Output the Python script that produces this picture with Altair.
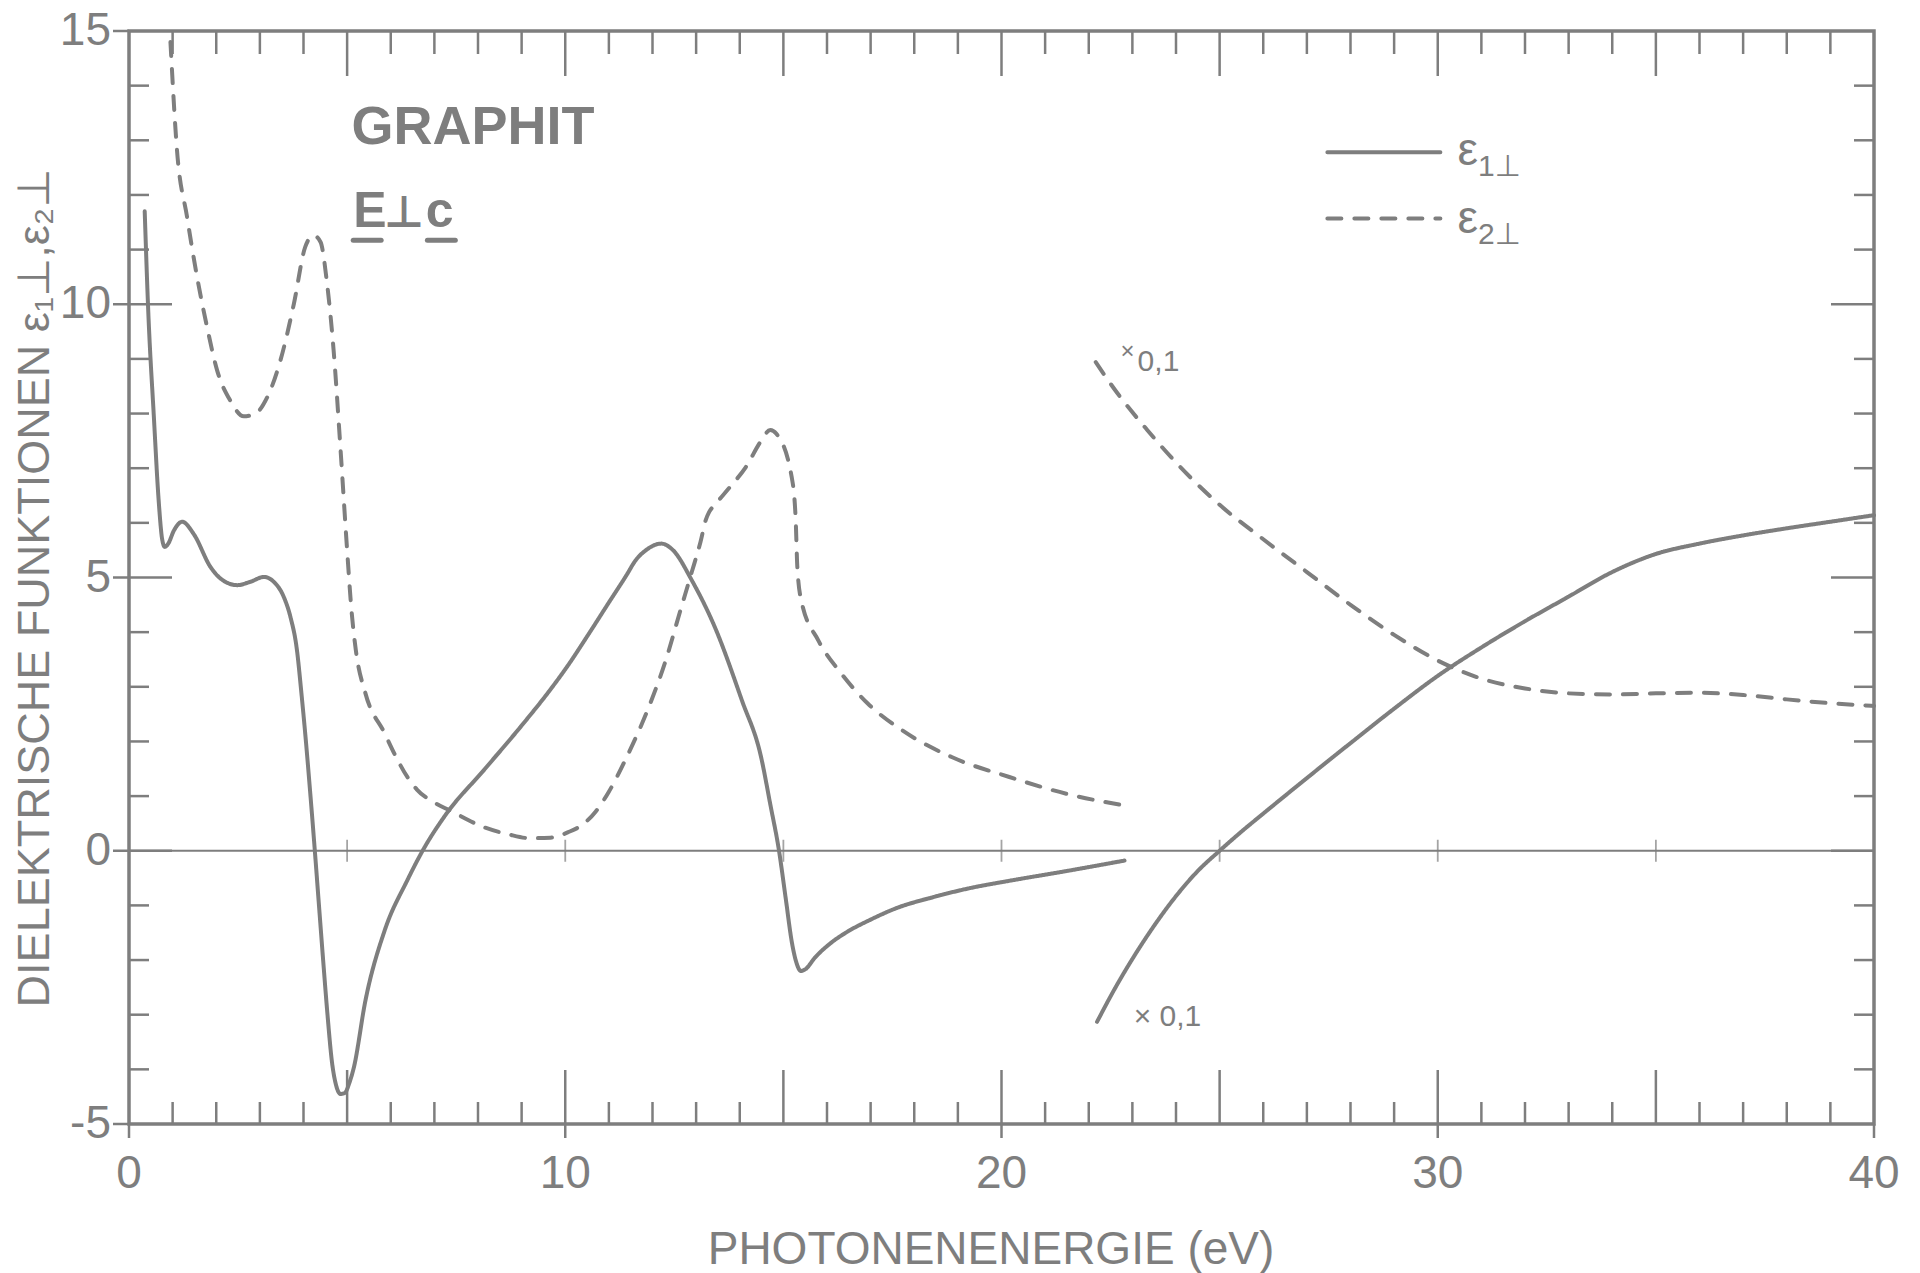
import altair as alt
import pandas as pd

# ---------------- data ----------------
# epsilon_1 (solid), first branch 0.35 .. 23 eV
e1a_x = [0.36, 0.44, 0.57, 0.68, 0.76, 0.82, 0.90, 1.03, 1.22, 1.48, 1.87, 2.10, 2.48, 2.78, 3.09,
         3.32, 3.55, 3.70, 3.85, 3.95, 4.05, 4.15, 4.25, 4.35, 4.45, 4.55, 4.65, 4.75, 4.85,
         4.95, 5.05, 5.15, 5.42, 5.86, 6.38, 6.73, 7.26, 8.14, 9.01, 9.66, 10.07, 10.54, 11.03,
         11.41, 11.60, 11.85, 12.20, 12.47, 12.90, 13.43, 14.05, 14.49, 14.70, 14.90, 15.05,
         15.20, 15.30, 15.40, 15.50, 15.73, 16.10, 16.43, 17.00, 17.56, 18.43, 19.30, 20.18,
         21.50, 22.82]
e1a_y = [11.70, 9.90, 7.94, 6.41, 5.70, 5.56, 5.62, 5.86, 6.02, 5.80, 5.19, 4.98, 4.86, 4.92, 5.01,
         4.92, 4.64, 4.28, 3.67, 2.90, 2.05, 1.10, 0.10, -0.95, -2.00, -3.00, -3.85, -4.30, -4.45,
         -4.43, -4.25, -3.98, -2.74, -1.46, -0.54, 0.00, 0.66, 1.48, 2.30, 2.95, 3.40, 3.97, 4.58,
         5.05, 5.30, 5.50, 5.62, 5.50, 4.95, 4.09, 2.75, 1.71, 0.85, 0.00, -0.85,
         -1.70, -2.05, -2.20, -2.17, -1.95, -1.68, -1.50, -1.26, -1.06, -0.85, -0.68, -0.55,
         -0.37, -0.18]

# epsilon_1 (solid), second branch (x 0.1) 22 .. 40 eV
e1b_x = [22.19, 22.60, 23.00, 23.50, 24.00, 24.50, 25.00, 25.50, 26.00, 27.00, 28.00, 29.00,
         30.00, 31.00, 32.00, 33.00, 34.00, 35.00, 36.00, 37.00, 38.00, 39.00, 40.00]
e1b_y = [-3.13, -2.52, -1.98, -1.37, -0.83, -0.37, 0.00, 0.35, 0.68, 1.33, 1.97, 2.60,
         3.20, 3.72, 4.20, 4.65, 5.10, 5.43, 5.62, 5.77, 5.90, 6.02, 6.14]

# epsilon_2 (dashed), first branch 0.95 .. 23 eV
e2a_x = [0.95, 1.10, 1.33, 1.56, 1.79, 2.02, 2.32, 2.63, 2.90, 3.17, 3.47, 3.78, 4.04, 4.23,
         4.39, 4.54, 4.69, 4.85, 5.00, 5.10, 5.20, 5.42, 5.86, 6.10, 6.38, 6.60, 7.00, 7.35,
         8.14, 8.70, 9.19, 9.66, 10.07, 10.40, 10.70, 11.00, 11.40, 11.94, 12.29, 12.64, 12.90,
         13.10, 13.22, 13.30, 13.43, 13.78, 14.14, 14.49, 14.70, 14.84, 15.19, 15.28, 15.32,
         15.41, 15.80, 16.33, 16.94, 17.73, 18.87, 20.18, 21.50, 22.95]
e2a_y = [14.80, 12.82, 11.60, 10.50, 9.58, 8.79, 8.24, 7.95, 8.00, 8.30, 8.97, 10.01, 11.05, 11.26,
         11.14, 10.38, 9.16, 7.33, 5.50, 4.40, 3.67, 2.88, 2.15, 1.75, 1.35, 1.12, 0.88, 0.74,
         0.43, 0.30, 0.23, 0.24, 0.34, 0.48, 0.72, 1.08, 1.70, 2.68, 3.45, 4.40, 5.10,
         5.65, 6.05, 6.20, 6.33, 6.66, 7.02, 7.50, 7.70, 7.63, 6.84, 6.10, 5.19,
         4.58, 3.85, 3.24, 2.69, 2.20, 1.71, 1.35, 1.04, 0.81]

# epsilon_2 (dashed), second branch (x 0.1) 22 .. 40 eV
e2b_x = [22.16, 22.65, 23.34, 24.10, 25.00, 26.00, 27.00, 28.00, 29.00, 30.00, 31.00, 32.00,
         33.00, 34.00, 35.00, 36.00, 37.00, 38.00, 39.00, 40.00]
e2b_y = [8.94, 8.38, 7.70, 7.02, 6.33, 5.70, 5.10, 4.50, 3.95, 3.48, 3.15, 2.97,
         2.88, 2.86, 2.88, 2.89, 2.85, 2.77, 2.70, 2.65]

x_ticks_labeled = [0, 10, 20, 30, 40]
x_tick_text = ["0", "10", "20", "30", "40"]
y_ticks_labeled = [-5, 0, 5, 10, 15]
y_tick_text = ["-5", "0", "5", "10", "15"]
x_minor = [v for v in range(1, 40) if v % 5 != 0]
x_major = [5, 10, 15, 20, 25, 30, 35]
y_minor = [v for v in range(-4, 15) if v % 5 != 0]
y_major = [0, 5, 10]
zero_ticks = [5, 10, 15, 20, 25, 30, 35]

x_title = "PHOTONENENERGIE (eV)"
y_title = "DIELEKTRISCHE FUNKTIONEN ε₁⊥,ε₂⊥"
series_names = ["e1", "e2"]

# ---------------- styling ----------------
GRAY = "#7e7e7e"
W, H = 1745, 1093
FONT = "Liberation Sans, DejaVu Sans, sans-serif"

xs = alt.Scale(domain=[0, 40], nice=False, zero=False)
ys = alt.Scale(domain=[-5, 15], nice=False, zero=False)

frames = []
for name, seg, xx, yy in [("e1", "e1a", e1a_x, e1a_y), ("e1", "e1b", e1b_x, e1b_y),
                          ("e2", "e2a", e2a_x, e2a_y), ("e2", "e2b", e2b_x, e2b_y)]:
    frames.append(pd.DataFrame({"E": xx, "eps": yy, "series": name, "seg": seg}))
df = pd.concat(frames, ignore_index=True)

lines = alt.Chart(df).mark_line(interpolate="monotone", strokeWidth=4, color=GRAY,
                                strokeCap="round").encode(
    x=alt.X("E:Q", scale=xs, axis=None),
    y=alt.Y("eps:Q", scale=ys, axis=None),
    strokeDash=alt.StrokeDash("series:N", scale=alt.Scale(domain=series_names,
                                                           range=[[1, 0], [14, 13]]), legend=None),
    detail="seg:N",
)

# zero line and its small ticks
zero_line = alt.Chart(pd.DataFrame({"z": [0]})).mark_rule(color=GRAY, strokeWidth=1.8).encode(
    y=alt.Y("z:Q", scale=ys, axis=None), x=alt.value(0), x2=alt.value(W))
zero_tk = alt.Chart(pd.DataFrame({"v": zero_ticks, "z": [0] * len(zero_ticks)})).mark_tick(
    orient="vertical", size=22, thickness=1.8, color=GRAY).encode(
    x=alt.X("v:Q", scale=xs, axis=None), y=alt.Y("z:Q", scale=ys, axis=None))

# ticks on all four sides (inward), plus outward ticks at the labelled values
def xticks(vals, y0, y1):
    return alt.Chart(pd.DataFrame({"v": vals})).mark_rule(color=GRAY, strokeWidth=2.5).encode(
        x=alt.X("v:Q", scale=xs, axis=None), y=alt.value(y0), y2=alt.value(y1))

def yticks(vals, x0, x1):
    return alt.Chart(pd.DataFrame({"v": vals})).mark_rule(color=GRAY, strokeWidth=2.5).encode(
        y=alt.Y("v:Q", scale=ys, axis=None), x=alt.value(x0), x2=alt.value(x1))

tick_layers = [
    xticks(x_minor, H, H - 22), xticks(x_major, H, H - 54),
    xticks(x_minor, 0, 23), xticks(x_major, 0, 45),
    yticks(y_minor, 0, 20), yticks(y_major, 0, 43),
    yticks(y_minor, W, W - 20), yticks(y_major, W, W - 43),
    xticks(x_ticks_labeled, H, H + 14),
    yticks(y_ticks_labeled, 0, -16),
]

# tick labels and axis titles
x_lab = alt.Chart(pd.DataFrame({"v": x_ticks_labeled, "t": x_tick_text})).mark_text(
    align="center", baseline="top", fontSize=46, font=FONT, color=GRAY).encode(
    x=alt.X("v:Q", scale=xs, axis=None), y=alt.value(H + 28), text="t:N")
y_lab = alt.Chart(pd.DataFrame({"v": y_ticks_labeled, "t": y_tick_text})).mark_text(
    align="right", baseline="middle", fontSize=46, font=FONT, color=GRAY).encode(
    y=alt.Y("v:Q", scale=ys, axis=None), x=alt.value(-18), text="t:N")
x_tit = alt.Chart(pd.DataFrame({"t": [x_title]})).mark_text(
    align="center", baseline="alphabetic", fontSize=46, font=FONT, color=GRAY).encode(
    x=alt.value(862), y=alt.value(H + 140), text="t:N")
y_tit = alt.Chart(pd.DataFrame({"t": [y_title]})).mark_text(
    align="center", baseline="middle", fontSize=45, font=FONT, color=GRAY, angle=270).encode(
    x=alt.value(-94), y=alt.value(557), text="t:N")

# annotations (placed in data coordinates)
def label(text, x, y, size, align="left", font=FONT, weight="normal"):
    return alt.Chart(pd.DataFrame({"t": [text], "x": [x], "y": [y]})).mark_text(
        align=align, baseline="alphabetic", fontSize=size, font=font, color=GRAY,
        fontWeight=weight).encode(
        x=alt.X("x:Q", scale=xs, axis=None), y=alt.Y("y:Q", scale=ys, axis=None), text="t:N")

ann = [
    label("GRAPHIT", 5.10, 12.94, 54, weight="bold"),
    label("E", 5.14, 11.41, 50, weight="bold"),
    label("⊥", 6.30, 11.41, 44, align="center", font="DejaVu Sans, sans-serif", weight="bold"),
    label("c", 7.12, 11.41, 50, align="center", weight="bold"),
    label("×", 22.73, 9.0, 24),
    label("0,1", 23.12, 8.77, 30),
    label("× 0,1", 23.03, -3.21, 30),
    label("ε", 30.45, 12.54, 46),
    label("1⊥", 30.92, 12.34, 30),
    label("ε", 30.45, 11.31, 46),
    label("2⊥", 30.92, 11.11, 30),
]

underline = alt.Chart(pd.DataFrame({"a": [5.14, 6.84], "b": [5.78, 7.48], "y": [11.17, 11.17]})).mark_rule(
    color=GRAY, strokeWidth=5, strokeCap="round").encode(
    x=alt.X("a:Q", scale=xs, axis=None), x2="b:Q", y=alt.Y("y:Q", scale=ys, axis=None))

leg = alt.Chart(pd.DataFrame({"a": [27.47, 27.47], "b": [30.06, 30.06], "y": [12.78, 11.57],
                              "series": series_names})).mark_rule(
    color=GRAY, strokeWidth=4, strokeCap="round").encode(
    x=alt.X("a:Q", scale=xs, axis=None), x2="b:Q", y=alt.Y("y:Q", scale=ys, axis=None),
    strokeDash=alt.StrokeDash("series:N", scale=alt.Scale(domain=series_names,
                                                           range=[[1, 0], [14, 13]]), legend=None))

chart = alt.layer(lines, zero_line, zero_tk, *tick_layers, x_lab, y_lab, x_tit, y_tit,
                  underline, leg, *ann).properties(
    width=W, height=H,
    padding={"left": 129, "top": 31, "right": 46, "bottom": 149},
    autosize=alt.AutoSizeParams(type="none"),
    background="white",
).configure_view(stroke=GRAY, strokeWidth=3.5)

chart.save("out.html", embed_options={"renderer": "svg", "actions": False})
